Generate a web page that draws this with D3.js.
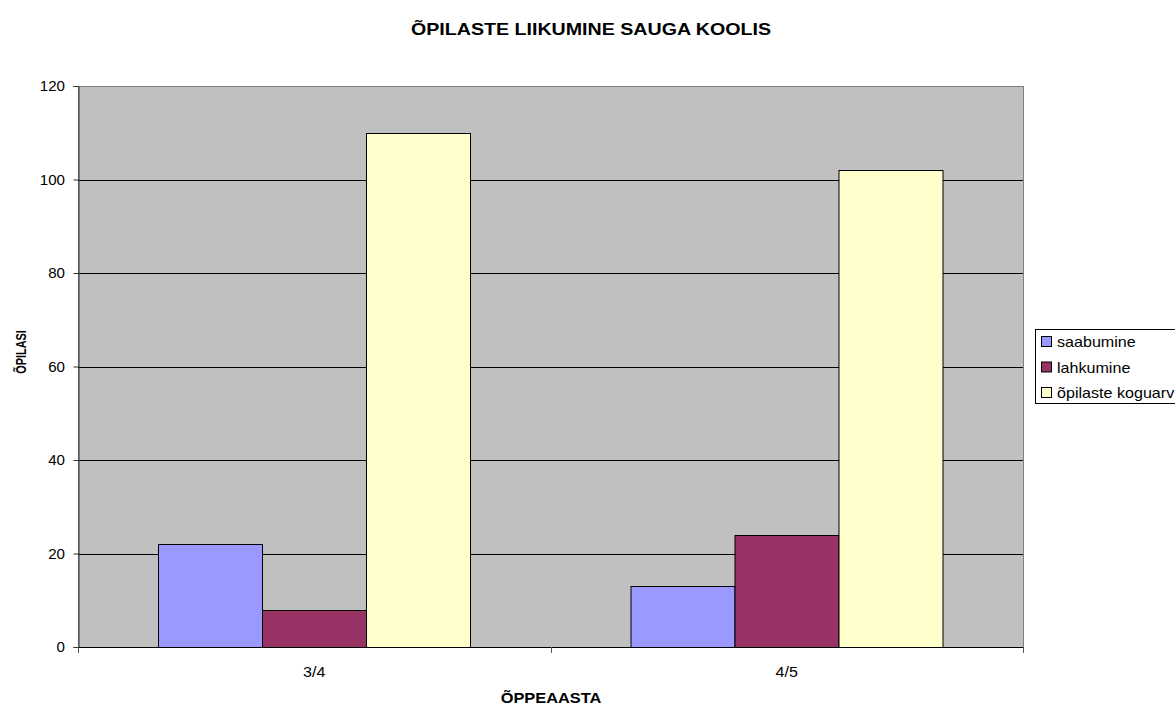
<!DOCTYPE html>
<html>
<head>
<meta charset="utf-8">
<script src="https://cdn.jsdelivr.net/npm/d3@7"></script>
<style>
body { margin: 0; background: #fff; }
svg { font-family: Arial, "Liberation Sans", sans-serif; }
</style>
</head>
<body>
<svg width="1175" height="707"></svg>
<script>
var years = ['3/4', '4/5'];
var seriesNames = ['saabumine', 'lahkumine', 'õpilaste koguarv'];
var saabumine = [22, 13];
var lahkumine = [8, 24];
var koguarv = [110, 102];
var yTicks = [0, 20, 40, 60, 80, 100, 120];
var colors = ['#9999ff', '#993366', '#ffffcc'];

var svg = d3.select('svg');
var plot = {l: 78, r: 1023, t: 86, b: 647};
var stretch = 1.16; // text in the original is drawn a bit wide

var table = years.map(function(y, i) {
    return {year: y, values: [saabumine[i], lahkumine[i], koguarv[i]]};
});

var x0 = d3.scaleBand().domain(years).range([plot.l, plot.r]).paddingInner(0).paddingOuter(0);
var x1 = d3.scaleBand().domain(seriesNames).range([0, x0.bandwidth()]).paddingInner(0).paddingOuter(0.761);
var yScale = d3.scaleLinear().domain([0, 120]).range([plot.b, plot.t]);

// helper: text stretched horizontally around its anchor
function stext(g, x, y, str, size, weight, anchor, k) {
    return g.append('text')
        .attr('transform', 'translate(' + x + ',' + y + ')scale(' + (k || stretch) + ',1)')
        .attr('text-anchor', anchor || 'start')
        .style('font-size', size + 'px')
        .style('font-weight', weight || 'normal')
        .attr('fill', '#000')
        .text(str);
}

// plot background
svg.append('rect')
    .attr('x', plot.l + 0.5).attr('y', plot.t + 0.5)
    .attr('width', plot.r - plot.l).attr('height', plot.b - plot.t)
    .attr('fill', '#c0c0c0')
    .attr('stroke', '#808080').attr('stroke-width', 1);

// gridlines
svg.append('g').selectAll('line')
    .data(yTicks.slice(1, -1))
    .enter().append('line')
    .attr('x1', plot.l).attr('x2', plot.r)
    .attr('y1', function(d) { return Math.round(yScale(d)) + 0.5; })
    .attr('y2', function(d) { return Math.round(yScale(d)) + 0.5; })
    .attr('stroke', '#000').attr('stroke-width', 1);

// bars
var groups = svg.append('g').selectAll('g')
    .data(table).enter().append('g')
    .attr('transform', function(d) { return 'translate(' + x0(d.year) + ',0)'; });

groups.selectAll('rect')
    .data(function(d) { return d.values.map(function(v, i) { return {name: seriesNames[i], value: v, i: i}; }); })
    .enter().append('rect')
    .attr('x', function(d) { return Math.round(x1(d.name)) + 0.5; })
    .attr('width', Math.round(x1.bandwidth()))
    .attr('y', function(d) { return Math.round(yScale(d.value)) + 0.5; })
    .attr('height', function(d) { return Math.round(yScale(0)) - Math.round(yScale(d.value)); })
    .attr('fill', function(d) { return colors[d.i]; })
    .attr('stroke', '#000').attr('stroke-width', 1);

// y axis
var yAxis = svg.append('g')
    .attr('transform', 'translate(' + (plot.l + 0.5) + ',0)')
    .call(d3.axisLeft(yScale).tickValues(yTicks).tickSize(5).tickFormat(''));
yAxis.select('.domain').attr('stroke', '#333');
yAxis.selectAll('.tick line').attr('stroke', '#333');
var yLab = svg.append('g');
yTicks.forEach(function(t) {
    stext(yLab, plot.l - 13, yScale(t) + 5, t, 14, 'normal', 'end', 1.08);
});

// x axis
svg.append('line')
    .attr('x1', plot.l).attr('x2', plot.r + 1)
    .attr('y1', plot.b + 0.5).attr('y2', plot.b + 0.5)
    .attr('stroke', '#000');
svg.append('g').selectAll('line')
    .data([plot.l, (plot.l + plot.r) / 2, plot.r])
    .enter().append('line')
    .attr('x1', function(d) { return Math.round(d) + 0.5; })
    .attr('x2', function(d) { return Math.round(d) + 0.5; })
    .attr('y1', plot.b).attr('y2', plot.b + 6)
    .attr('stroke', '#555');
var xLab = svg.append('g');
years.forEach(function(y) {
    stext(xLab, x0(y) + x0.bandwidth() / 2, 677, y, 14, 'normal', 'middle', 1.15);
});

// titles
stext(svg, 591, 35, 'ÕPILASTE LIIKUMINE SAUGA KOOLIS', 16.5, 'bold', 'middle', 1.19);
stext(svg, 551, 703, 'ÕPPEAASTA', 14, 'bold', 'middle', 1.17);
svg.append('text')
    .attr('transform', 'translate(26,352)rotate(-90)scale(0.78,1)')
    .attr('text-anchor', 'middle')
    .style('font-size', '14px').style('font-weight', 'bold')
    .text('ÕPILASI');

// legend
var legend = svg.append('g').attr('transform', 'translate(1035,329)');
legend.append('rect')
    .attr('x', 0.5).attr('y', 0.5).attr('width', 170).attr('height', 74)
    .attr('fill', '#fff').attr('stroke', '#000');
var items = legend.selectAll('.item')
    .data(seriesNames).enter().append('g')
    .attr('transform', function(d, i) { return 'translate(6,' + (13 + i * 25.5) + ')'; });
items.append('rect')
    .attr('x', 0.5).attr('y', -5.5).attr('width', 10).attr('height', 10)
    .attr('fill', function(d, i) { return colors[i]; })
    .attr('stroke', '#000');
items.each(function(d) {
    stext(d3.select(this), 16, 5, d, 14, 'normal', 'start', 1.15);
});
</script>
</body>
</html>
